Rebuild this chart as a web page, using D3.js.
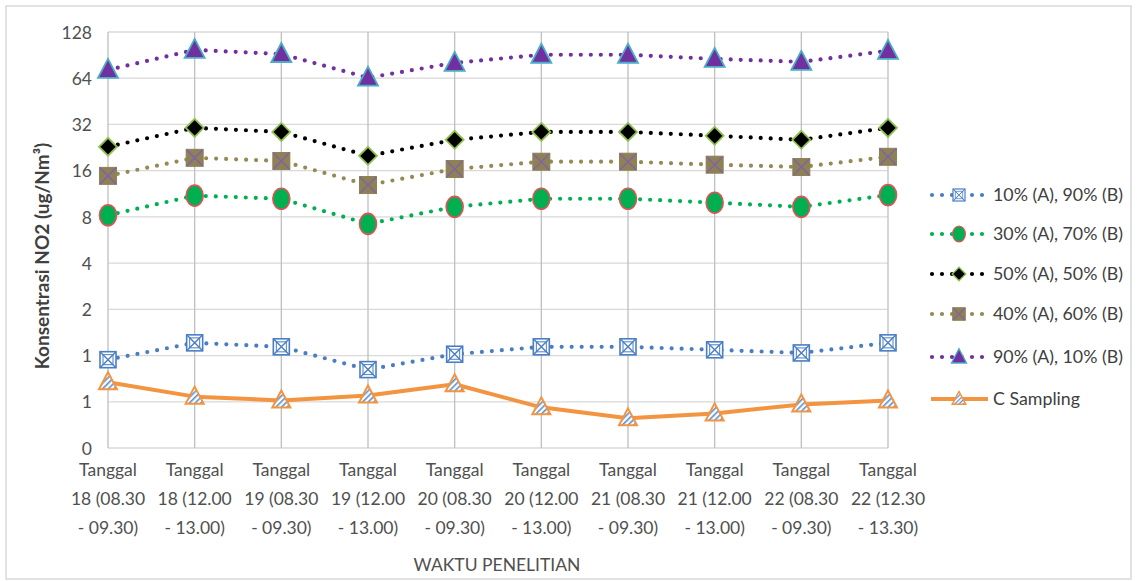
<!DOCTYPE html>
<html>
<head>
<meta charset="utf-8">
<script src="https://cdn.jsdelivr.net/npm/d3@7"></script>
<style>
  body { margin: 0; background: #fff; }
  svg text { font-family: Lato, "Open Sans", sans-serif; }
</style>
</head>
<body>
<div id="graphDiv"></div>
<script>
// data //
var categories = ["18 (08.30|- 09.30)", "18 (12.00|- 13.00)", "19 (08.30|- 09.30)", "19 (12.00|- 13.00)",
    "20 (08.30|- 09.30)", "20 (12.00|- 13.00)", "21 (08.30|- 09.30)", "21 (12.00|- 13.00)",
    "22 (08.30|- 09.30)", "22 (12.30|- 13.30)"];
var seriesNames = ["10% (A), 90% (B)", "30% (A), 70% (B)", "50% (A), 50% (B)",
    "40% (A), 60% (B)", "90% (A), 10% (B)", "C Sampling"];
var s10 = [0.94, 1.21, 1.14, 0.81, 1.02, 1.14, 1.14, 1.09, 1.04, 1.21];
var s30 = [8.2, 11.0, 10.5, 7.2, 9.3, 10.5, 10.5, 9.9, 9.3, 11.1];
var s50 = [22.9, 30.4, 28.6, 20.0, 25.4, 28.6, 28.6, 27.0, 25.4, 30.4];
var s40 = [14.8, 19.4, 18.5, 12.9, 16.4, 18.3, 18.3, 17.5, 16.9, 19.7];
var s90 = [72.5, 97.8, 92.0, 64.5, 80.6, 91.0, 91.0, 85.5, 81.8, 96.5];
var sC = [0.67, 0.54, 0.51, 0.55, 0.65, 0.46, 0.39, 0.42, 0.48, 0.51];
var yTicks = [0.25, 0.5, 1, 2, 4, 8, 16, 32, 64, 128];
var yTickLabels = ["0", "1", "1", "2", "4", "8", "16", "32", "64", "128"];

var W = 1137, H = 581;
var svg = d3.select("#graphDiv").append("svg").attr("width", W).attr("height", H);

// hatch for C Sampling marker
var defs = svg.append("defs");
var pat = defs.append("pattern").attr("id", "hatch").attr("patternUnits", "userSpaceOnUse")
    .attr("width", 4).attr("height", 4).attr("patternTransform", "rotate(45)");
pat.append("rect").attr("width", 4).attr("height", 4).attr("fill", "#fff");
pat.append("rect").attr("width", 1.6).attr("height", 4).attr("fill", "#5B8FD0");

svg.append("rect").attr("x", 6).attr("y", 6).attr("width", W - 12).attr("height", H - 8)
    .attr("fill", "#fff").attr("stroke", "#D9D9D9").attr("stroke-width", 1.5);

var xScale = d3.scalePoint().domain(d3.range(categories.length)).range([108, 888]);
var yScale = d3.scaleLog().base(2).domain([0.25, 128]).range([448, 32]);

// horizontal grid
svg.append("g").selectAll("line").data(yTicks).enter().append("line")
    .attr("x1", 108).attr("x2", 888)
    .attr("y1", function (d) { return yScale(d); }).attr("y2", function (d) { return yScale(d); })
    .attr("stroke", "#D9D9D9").attr("stroke-width", 1.3);

// vertical drop lines per category
svg.append("g").selectAll("line").data(categories).enter().append("line")
    .attr("x1", function (d, i) { return xScale(i); }).attr("x2", function (d, i) { return xScale(i); })
    .attr("y1", 32).attr("y2", 448)
    .attr("stroke", "#BFBFBF").attr("stroke-width", 1.3);

// y axis
var yAxis = d3.axisLeft(yScale).tickValues(yTicks).tickSize(0).tickPadding(0)
    .tickFormat(function (d, i) { return yTickLabels[i]; });
var yg = svg.append("g").attr("transform", "translate(92,0)").call(yAxis);
yg.select(".domain").remove();
yg.selectAll("text").attr("font-size", 17.5).attr("fill", "#505050").attr("dy", "0.35em");

// x axis labels
var xg = svg.append("g");
categories.forEach(function (c, i) {
    var parts = c.split("|");
    var t = xg.append("text").attr("text-anchor", "middle").attr("font-size", 17.5).attr("fill", "#505050");
    ["Tanggal", parts[0], parts[1]].forEach(function (s, k) {
        t.append("tspan").attr("x", xScale(i)).attr("y", 476 + k * 29).text(s);
    });
});

// titles
svg.append("text").attr("transform", "translate(49,256) rotate(-90)").attr("text-anchor", "middle")
    .attr("font-size", 19).attr("font-weight", "bold").attr("fill", "#404040")
    .text("Konsentrasi NO2 (ug/Nm³)");
svg.append("text").attr("x", 497).attr("y", 571).attr("text-anchor", "middle")
    .attr("font-size", 17.5).attr("fill", "#505050").text("WAKTU PENELITIAN");

// marker drawing
function drawMarker(g, type, x, y, scale) {
    scale = scale || 1;
    var m = g.append("g").attr("transform", "translate(" + x + "," + y + ") scale(" + scale + ")");
    if (type == "box") {
        m.append("rect").attr("x", -8).attr("y", -8).attr("width", 16).attr("height", 16)
            .attr("fill", "#fff").attr("stroke", "#4A7EC4").attr("stroke-width", 1.6);
        m.append("rect").attr("x", -5).attr("y", -5).attr("width", 10).attr("height", 10)
            .attr("fill", "none").attr("stroke", "#4A7EC4").attr("stroke-width", 1);
        m.append("path").attr("d", "M-8,-8L8,8M8,-8L-8,8").attr("stroke", "#4A7EC4").attr("stroke-width", 1.4);
    } else if (type == "ellipse") {
        m.append("ellipse").attr("rx", 8.5).attr("ry", 10.5)
            .attr("fill", "#00B050").attr("stroke", "#E0525A").attr("stroke-width", 1.6);
    } else if (type == "diamond") {
        m.append("path").attr("d", "M0,-9L9,0L0,9L-9,0Z")
            .attr("fill", "#000").attr("stroke", "#92C050").attr("stroke-width", 1.8);
    } else if (type == "xsquare") {
        m.append("rect").attr("x", -8.5).attr("y", -8.5).attr("width", 17).attr("height", 17)
            .attr("fill", "#8E8155").attr("stroke", "#8E8155").attr("stroke-width", 1);
        m.append("path").attr("d", "M-8,-8L8,8M8,-8L-8,8").attr("stroke", "#8064A2").attr("stroke-width", 1.6);
    } else if (type == "triangle") {
        m.append("path").attr("d", "M0,-11L10,8L-10,8Z")
            .attr("fill", "#7030A0").attr("stroke", "#4BACC6").attr("stroke-width", 1.8);
    } else if (type == "htriangle") {
        m.append("path").attr("d", "M0,-10L9,7L-9,7Z")
            .attr("fill", "url(#hatch)").attr("stroke", "#F39440").attr("stroke-width", 2);
    }
}

var series = [
    {name: seriesNames[0], values: s10, color: "#4A7EC4", marker: "box", dotted: true},
    {name: seriesNames[1], values: s30, color: "#00B050", marker: "ellipse", dotted: true},
    {name: seriesNames[2], values: s50, color: "#000000", marker: "diamond", dotted: true},
    {name: seriesNames[3], values: s40, color: "#948A54", marker: "xsquare", dotted: true},
    {name: seriesNames[4], values: s90, color: "#7030A0", marker: "triangle", dotted: true},
    {name: seriesNames[5], values: sC, color: "#F39440", marker: "htriangle", dotted: false}
];

var lineFunc = d3.line()
    .x(function (d, i) { return xScale(i); })
    .y(function (d) { return yScale(d); });

var lines = svg.append("g").attr("class", "lines");
series.forEach(function (s) {
    var p = lines.append("path").attr("d", lineFunc(s.values)).attr("fill", "none")
        .attr("stroke", s.color).attr("stroke-linecap", "round");
    if (s.dotted) {
        p.attr("stroke-width", 4.2).attr("stroke-dasharray", "0,10");
    } else {
        p.attr("stroke-width", 4).attr("stroke-linejoin", "round");
    }
    s.values.forEach(function (v, i) {
        drawMarker(lines, s.marker, xScale(i), yScale(v));
    });
});

// legend
var legendY = [195, 234, 274, 314, 357, 399];
var lg = svg.append("g");
series.forEach(function (s, i) {
    var y = legendY[i];
    var l = lg.append("line").attr("x1", 932).attr("x2", 987).attr("y1", y).attr("y2", y)
        .attr("stroke", s.color).attr("stroke-linecap", "round");
    if (s.dotted) {
        l.attr("stroke-width", 4.2).attr("stroke-dasharray", "0,10");
    } else {
        l.attr("stroke-width", 4).attr("x1", 931).attr("x2", 988).attr("stroke-linecap", "butt");
    }
    drawMarker(lg, s.marker, 959, y, 0.75);
    lg.append("text").attr("x", 993).attr("y", y).attr("dy", "0.35em")
        .attr("font-size", 17.8).attr("fill", "#404040").text(s.name);
});
</script>
</body>
</html>
